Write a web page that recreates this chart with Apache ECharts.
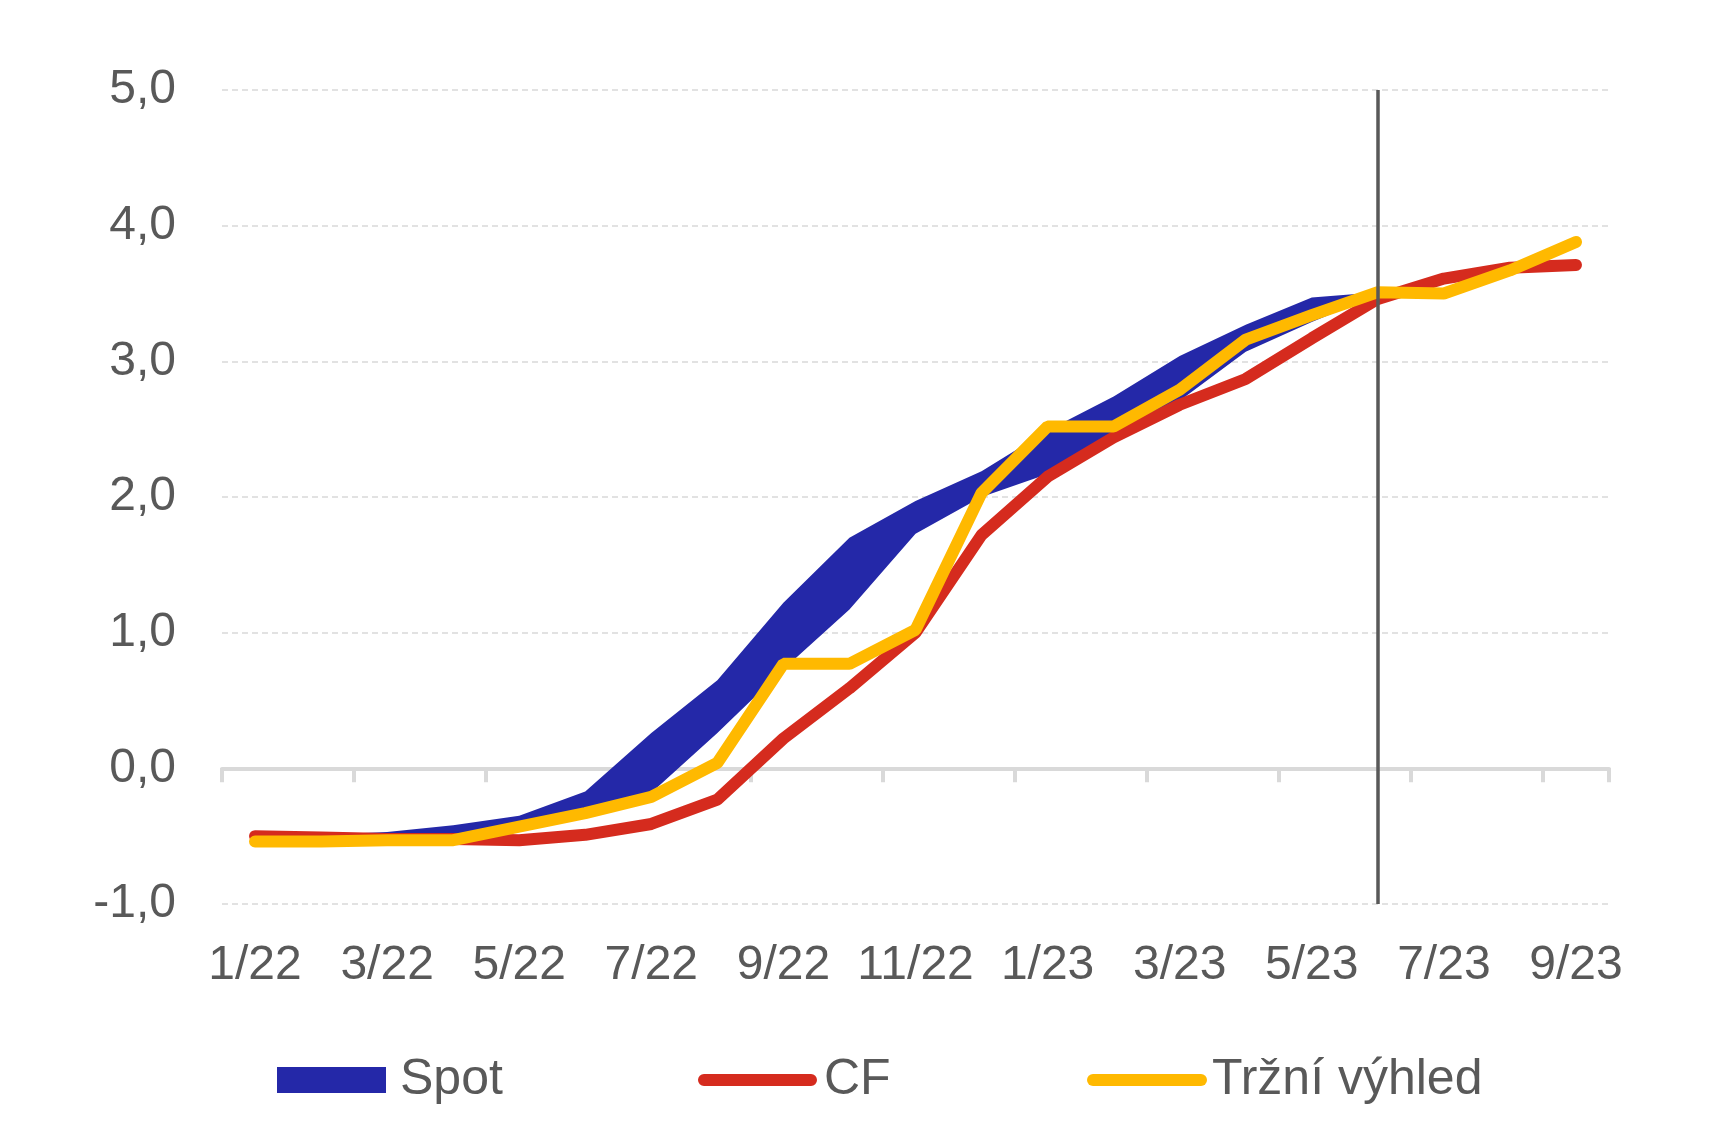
<!DOCTYPE html>
<html>
<head>
    <meta charset="utf-8"/>
    <script src="https://cdn.jsdelivr.net/npm/echarts/dist/echarts.min.js"></script>
    <style>
        body { margin: 0; background: #fff; }
    </style>
</head>
<body>
<div id="main" style="width: 1723px;height:1125px;"></div>
<script type="text/javascript">
    // měsíce 1/22 .. 9/23
    var months = ['1/22', '2/22', '3/22', '4/22', '5/22', '6/22', '7/22', '8/22', '9/22', '10/22', '11/22', '12/22',
        '1/23', '2/23', '3/23', '4/23', '5/23', '6/23', '7/23', '8/23', '9/23'];

    // Spot - pásmo (dolní a horní hranice)
    var spotLow = [-0.52, -0.52, -0.52, -0.52, -0.45, -0.36, -0.18, 0.26, 0.73, 1.17, 1.73, 2.00,
        2.17, 2.45, 2.71, 3.07, 3.29, 3.49, null, null, null];
    var spotHigh = [-0.50, -0.49, -0.47, -0.42, -0.35, -0.17, 0.26, 0.65, 1.22, 1.70, 1.97, 2.19,
        2.49, 2.74, 3.04, 3.27, 3.47, 3.51, null, null, null];

    // CF
    var cf = [-0.50, -0.51, -0.52, -0.52, -0.53, -0.49, -0.41, -0.23, 0.22, 0.59, 1.00, 1.72,
        2.15, 2.44, 2.68, 2.87, 3.17, 3.46, 3.61, 3.69, 3.71];

    // Tržní výhled
    var market = [-0.54, -0.54, -0.53, -0.53, -0.43, -0.33, -0.21, 0.04, 0.77, 0.77, 1.02, 2.03,
        2.52, 2.52, 2.79, 3.16, 3.34, 3.51, 3.50, 3.67, 3.88];

    var cutMonth = '6/23';

    var blue = '#2428A8', red = '#D52B1E', yellow = '#FFB900', grey = '#595959', light = '#D9D9D9';
    var font = "'Liberation Sans', Arial, sans-serif";
    var capsule = 'path://M6,0L114,0A6,6,0,0,1,114,12L6,12A6,6,0,0,1,6,0Z';

    var spotWidth = spotHigh.map(function (v, i) {
        return v == null ? null : +(v - spotLow[i]).toFixed(2);
    });

    var myChart = echarts.init(document.getElementById('main'));

    function legendBox(name, left, w, h, icon, pad) {
        return {
            data: [name],
            left: left,
            top: 1050,
            icon: icon,
            itemWidth: w,
            itemHeight: h,
            selectedMode: false,
            textStyle: {fontSize: 50, color: grey, fontFamily: font, padding: [0, 0, 0, pad]}
        };
    }

    var option = {
        animation: false,
        textStyle: {fontFamily: font},
        grid: {left: 222, right: 114, top: 90, bottom: 221, containLabel: false},
        legend: [
            legendBox('Spot', 272, 109, 26, 'rect', 9),
            legendBox('CF', 693, 119, 12, capsule, 2),
            legendBox('Tržní výhled', 1082, 120, 12, capsule, 0)
        ],
        xAxis: [
            {
                type: 'category',
                data: months,
                position: 'bottom',
                axisLine: {show: false, onZero: false},
                axisTick: {show: false},
                axisLabel: {interval: 1, fontSize: 48, color: grey, margin: 38, fontFamily: font}
            },
            {
                type: 'category',
                data: months,
                position: 'bottom',
                axisLine: {show: true, onZero: true, lineStyle: {color: light, width: 4}},
                axisTick: {show: true, interval: 1, length: 14, lineStyle: {color: light, width: 4}},
                axisLabel: {show: false}
            }
        ],
        yAxis: {
            type: 'value',
            min: -1,
            max: 5,
            interval: 1,
            axisLine: {show: false},
            axisTick: {show: false},
            axisLabel: {
                fontSize: 48, color: grey, margin: 46, fontFamily: font,
                formatter: function (v) { return v.toFixed(1).replace('.', ','); }
            },
            splitLine: {lineStyle: {color: light, width: 1.5, type: [6, 4]}}
        },
        series: [
            {
                name: 'SpotLow',
                type: 'line',
                data: spotLow,
                stack: 'spot',
                stackStrategy: 'all',
                symbol: 'none',
                lineStyle: {width: 0, opacity: 0},
                markLine: {
                    silent: true,
                    symbol: ['none', 'none'],
                    label: {show: false},
                    lineStyle: {color: grey, width: 3.5, type: 'solid'},
                    data: [{xAxis: cutMonth}]
                }
            },
            {
                name: 'Spot',
                type: 'line',
                data: spotWidth,
                stack: 'spot',
                stackStrategy: 'all',
                symbol: 'none',
                color: blue,
                itemStyle: {color: blue, opacity: 1},
                lineStyle: {width: 0, opacity: 0},
                areaStyle: {color: blue, opacity: 1}
            },
            {
                name: 'CF',
                type: 'line',
                data: cf,
                symbol: 'none',
                color: red,
                itemStyle: {color: red},
                lineStyle: {color: red, width: 12, cap: 'round'}
            },
            {
                name: 'Tržní výhled',
                type: 'line',
                data: market,
                symbol: 'none',
                color: yellow,
                itemStyle: {color: yellow},
                lineStyle: {color: yellow, width: 12, cap: 'round'}
            }
        ]
    };

    myChart.setOption(option);
</script>
</body>
</html>
